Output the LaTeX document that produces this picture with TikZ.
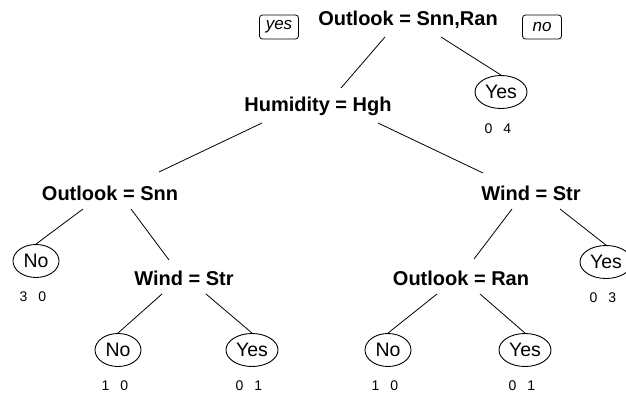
\documentclass[tikz,border=0pt]{standalone}
\usepackage{fontspec}
\setmainfont{Liberation Sans}
\usetikzlibrary{shapes.geometric, positioning, calc}

\begin{document}
\begin{tikzpicture}[x=1pt, y=1pt, on grid,
        split/.style={font=\fontsize{20}{20}\selectfont\bfseries, inner sep=1pt},
        leaf/.style={ellipse, draw, line width=0.9pt, inner sep=0pt, minimum width=46pt, minimum height=33pt, font=\fontsize{19.5}{19.5}\selectfont},
        yesleaf/.style={leaf, minimum width=52pt},
        count/.style={font={\fontsize{14}{14}\selectfont\spaceskip=11pt\relax}, inner sep=0pt, xshift=-3pt},
        dirlab/.style={draw, rounded corners=3pt, line width=0.8pt, minimum width=39pt, minimum height=24pt, inner sep=1pt, font=\fontsize{17}{17}\selectfont\itshape},
        branch/.style={draw, line width=0.8pt}]

        \useasboundingbox (0,0) rectangle (626,-394);
        \clip (0,0) rectangle (626,-394);

        % Raiz y etiquetas de rama
        \node [split] (root) at (408,-20) {Outlook = Snn,Ran};
        \node [dirlab, below left=7pt and 129pt of root] (yesbox) {yes};
        \node [dirlab, below right=7pt and 134pt of root] (nobox) {no};

        % Nivel 1
        \node [split, below left=86pt and 90pt of root] (hum) {Humidity = Hgh};
        \node [yesleaf, below right=72pt and 93pt of root] (yes1) {Yes};
        \node [count, below=37pt of yes1] (c1) {0 4};

        % Nivel 2
        \node [split, below left=87pt and 208pt of hum] (osnn) {Outlook = Snn};
        \node [split, below right=87pt and 213pt of hum] (wind2) {Wind = Str};

        % Nivel 3
        \node [leaf, below left=68pt and 74pt of osnn] (no1) {No};
        \node [count, below=36pt of no1] (c2) {3 0};
        \node [split, below right=85pt and 74pt of osnn] (wind1) {Wind = Str};
        \node [split, below left=85pt and 70pt of wind2] (oran) {Outlook = Ran};
        \node [yesleaf, below right=69pt and 75pt of wind2] (yes3) {Yes};
        \node [count, below=36pt of yes3] (c3) {0 3};

        % Nivel 4
        \node [leaf, below left=72pt and 66pt of wind1] (no2) {No};
        \node [count, below=36pt of no2] (c4) {1 0};
        \node [yesleaf, below right=72pt and 68pt of wind1] (yes2) {Yes};
        \node [count, below=36pt of yes2] (c5) {0 1};
        \node [leaf, below left=72pt and 73pt of oran] (no3) {No};
        \node [count, below=36pt of no3] (c6) {1 0};
        \node [yesleaf, below right=72pt and 64pt of oran] (yes4) {Yes};
        \node [count, below=36pt of yes4] (c7) {0 1};

        % Ramas
        \path [branch] ($(root)+(-23,-17)$) -- ($(hum)+(23,18)$);
        \path [branch] ($(root)+(33,-17)$) -- (yes1.north);
        \path [branch] ($(hum)+(-56,-17)$) -- ($(osnn)+(49,21)$);
        \path [branch] ($(hum)+(60,-17)$) -- ($(wind2)+(-48,20)$);
        \path [branch] ($(osnn)+(-27,-16)$) -- (no1.north);
        \path [branch] ($(osnn)+(21,-16)$) -- ($(wind1)+(-15,18)$);
        \path [branch] ($(wind1)+(-22,-16)$) -- (no2.north);
        \path [branch] ($(wind1)+(22,-16)$) -- (yes2.north);
        \path [branch] ($(wind2)+(-19,-16)$) -- ($(oran)+(13,19)$);
        \path [branch] ($(wind2)+(29,-16)$) -- (yes3.north);
        \path [branch] ($(oran)+(-24,-16)$) -- (no3.north);
        \path [branch] ($(oran)+(19,-16)$) -- (yes4.north);
\end{tikzpicture}
\end{document}
